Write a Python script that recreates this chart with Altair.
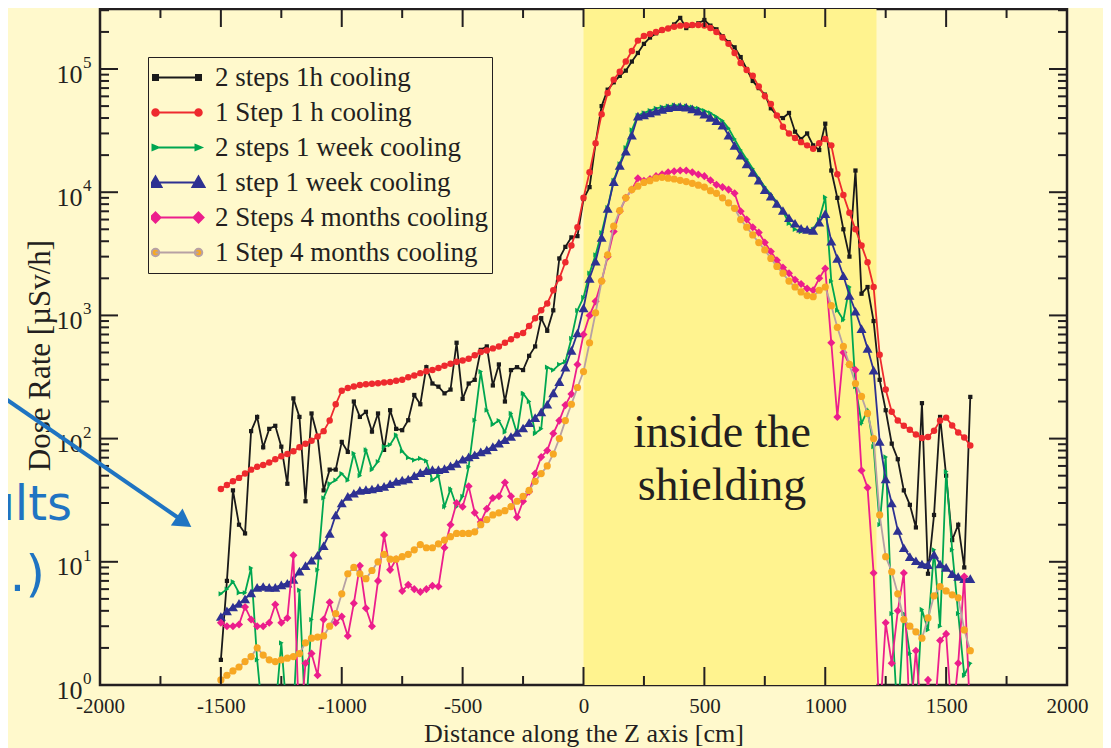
import altair as alt
import pandas as pd

# ---------------- data ----------------
Z_CM = list(range(-1500, 1601, 25))  # sampling positions along Z [cm]

SERIES = ["2 steps 1h cooling", "1 Step 1 h cooling", "2 steps 1 week cooling",
          "1 step 1 week cooling", "2 Steps 4 months cooling", "1 Step 4 months cooling"]

BLACK_2STEPS_1H = [
    1.6, 7, 38, 20, 17, 115, 150, 85, 120, 127,
    86, 43, 212, 150, 31, 160, 104, 38, 56, 56,
    94, 78, 200, 150, 165, 114, 160, 81, 170, 120,
    117, 141, 226, 190, 380, 280, 264, 233, 250, 600,
    210, 280, 300, 525, 560, 270, 400, 200, 360, 380,
    360, 470, 560, 950, 750, 1100, 2900, 3600, 4300, 4400,
    8800, 11000, 25000, 50000, 68000, 78000, 88000, 97000, 115000, 135000,
    160000, 180000, 195000, 205000, 215000, 230000, 260000, 215000, 225000, 235000,
    250000, 225000, 210000, 185000, 165000, 150000, 125000, 100000, 80000, 70000,
    62000, 48000, 42000, 40000, 44000, 31000, 27000, 30000, 24000, 22000,
    36000, 15000, 9000, 5000, 3000, 15000, 1500, 1700, 900, 300,
    170, 91, 68, 38, 29, 19, 194, 8, 24, 150,
    50, 15, 20, 9, 218]

RED_1STEP_1H = [
    39, 42, 45, 48, 52, 56, 59, 61, 64, 68,
    72, 75, 79, 85, 91, 96, 104, 115, 140, 190,
    245, 258, 265, 272, 276, 279, 282, 285, 288, 295,
    300, 315, 325, 340, 352, 360, 375, 390, 405, 420,
    430, 445, 475, 505, 520, 540, 560, 600, 640, 690,
    720, 820, 950, 1100, 1250, 1600, 2000, 2700, 3700, 5200,
    9000, 14500, 25000, 43000, 64000, 82000, 95000, 115000, 140000, 170000,
    185000, 192000, 200000, 207000, 213000, 220000, 225000, 227000, 228000, 228000,
    226000, 215000, 200000, 180000, 160000, 135000, 112000, 98000, 88000, 72000,
    60000, 52000, 42000, 34000, 30000, 27500, 25500, 24000, 22500, 25000,
    27000, 24000, 14000, 9500, 6800, 5000, 3700, 2700, 1700, 480,
    250, 165, 140, 127, 118, 108, 101, 103, 116, 140,
    148, 128, 112, 102, 88]

GREEN_2STEPS_1W = [
    5.5, 6.0, 6.9, 5.6, 5.6, 8.9, 1.6, 0.5, 0.5, 0.6,
    2.2, 0.5, 0.6, 5.9, 0.5, 3.4, 8.6, 33, 43, 46,
    52, 46, 76, 50, 81, 56, 65, 86, 89, 107,
    79, 70, 67, 69, 66, 46, 50, 28, 39, 28,
    34, 59, 141, 350, 170, 130, 140, 113, 160, 110,
    233, 200, 110, 120, 380, 360, 400, 420, 650, 1100,
    1400, 2200, 3100, 4700, 7500, 12500, 17000, 23000, 32000, 42000,
    44000, 46000, 48000, 49000, 50000, 51000, 50500, 50000, 49000, 48000,
    46000, 44000, 41000, 38000, 33000, 27000, 22000, 18500, 15500, 13000,
    11000, 9600, 8300, 7000, 5600, 5000, 4800, 4900, 5000, 6000,
    9100, 1900, 1100, 920, 1700, 264, 133, 170, 86, 20,
    71, 3.8, 0.5, 3.8, 1.8, 0.5, 4.1, 2.8, 12.5, 3,
    54, 12.5, 3.8, 1.2, 1.5]

BLUE_1STEP_1W = [
    3.6, 4.0, 4.3, 4.6, 5.0, 5.6, 6.2, 6.3, 6.2, 6.2,
    6.5, 6.7, 7.2, 8.4, 9.3, 10.3, 11.3, 13.5, 17, 24,
    30, 34, 36, 38, 38.5, 39, 40, 41, 43, 45,
    46, 47, 50, 53, 55, 56, 56, 57, 60, 63,
    68, 71, 74, 78, 81, 86, 92, 98, 104, 112,
    122, 135, 148, 165, 190, 235, 290, 380, 520, 720,
    1150, 2000, 2750, 4300, 7400, 12200, 16500, 21500, 29000, 41500,
    42500, 44000, 45500, 47000, 48500, 49500, 49500, 49000, 47500, 45500,
    43000, 40500, 38000, 35000, 29000, 24000, 20000, 17000, 14500, 12500,
    10500, 9300, 8100, 7100, 6200, 5600, 5100, 5000, 4900, 5700,
    6700, 4000, 2900, 2100, 1450, 1080, 780, 540, 360, 95,
    47, 30, 18, 13, 11, 10.2, 9.6, 9.5, 11.5, 9.6,
    9.0, 8.0, 7.6, 7.3, 7.3]

PINK_2STEPS_4M = [
    3.2, 3.0, 3.0, 3.1, 4.3, 3.4, 3.0, 3.0, 3.2, 4.5,
    3.2, 3.5, 11.3, 0.4, 1.5, 1.8, 1.2, 3.4, 4.7, 3.2,
    3.6, 2.5, 4.6, 9.3, 4.2, 3.0, 7.0, 16.5, 8.6, 10.5,
    5.8, 6.5, 6.0, 5.7, 6.0, 6.4, 6.3, 13, 20, 30,
    28, 41, 25, 21, 27, 33, 34, 44, 34, 23,
    31, 37, 52, 71, 80, 110, 140, 187, 230, 400,
    700, 1000, 1300, 1900, 3000, 4800, 7000, 9000, 10500, 13000,
    12400, 12800, 13500, 14000, 14500, 14800, 15000, 15000, 14500, 13900,
    13500, 12500, 11500, 11000, 10500, 9800, 7000, 6000, 5200, 4700,
    3900, 3300, 2800, 2450, 2200, 1950, 1800, 1650, 1600, 2000,
    2400, 600, 150, 500, 400, 360, 55, 40, 8.1, 0.5,
    3.2, 1.5, 4.0, 8.1, 0.5, 1.9, 0.5, 1.1, 0.5, 2.3,
    2.6, 0.5, 1.5, 7.6, 0.5]

ORANGE_1STEP_4M = [
    1.1, 1.2, 1.3, 1.4, 1.55, 1.7, 2.0, 1.75, 1.6, 1.55,
    1.6, 1.65, 1.7, 1.8, 2.2, 2.4, 2.45, 2.5, 3.0, 3.8,
    5.5, 8.0, 9.0, 8.0, 7.3, 8.5, 10, 11.5, 10.5, 10.5,
    11, 11.5, 12.5, 13.8, 13, 13, 14, 15, 16, 17,
    17, 17, 17.5, 20, 22, 24, 25, 26, 28, 31,
    34, 38, 45, 52, 60, 75, 100, 140, 190, 260,
    350, 600, 1050, 1900, 3100, 5300, 7100, 9000, 10500, 11200,
    12000, 12400, 13000, 13200, 13000, 12800, 12500, 12200, 11800, 11400,
    11000, 10300, 9800, 9000, 8200, 7400, 6000, 5200, 4500, 3900,
    3400, 2900, 2500, 2200, 1900, 1700, 1550, 1450, 1420, 1600,
    1700, 1200, 800, 560, 400, 280, 220, 160, 100, 24,
    11, 8.3, 5.5, 3.4, 3.0, 2.7, 2.4, 3.5, 5.3, 6.3,
    5.8, 5.4, 5.1, 2.8, 1.9]

VALUES = [BLACK_2STEPS_1H, RED_1STEP_1H, GREEN_2STEPS_1W,
          BLUE_1STEP_1W, PINK_2STEPS_4M, ORANGE_1STEP_4M]

BAND_START, BAND_END = 0, 1212          # "inside the shielding" region [cm]
X_MAJOR = [-2000, -1500, -1000, -500, 0, 500, 1000, 1500, 2000]
X_MINOR = [-1750, -1250, -750, -250, 250, 750, 1250, 1750]
Y_MAJOR = [1, 10, 100, 1000, 10000, 100000]
Y_EXP = ["0", "1", "2", "3", "4", "5"]
Y_MINOR = [m * 10 ** k for k in range(0, 5) for m in range(2, 10)] + [200000, 300000]

# ---------------- styles ----------------
W, H = 967, 676
FONT = "Liberation Serif"
INK = "#231f20"
BG = "#fff9cc"
BAND = "#fff38f"
LINE_COLORS = ["#1a1a1a", "#ee2a2e", "#00a651", "#2e3192", "#ec1e8c", "#b7a1a4"]
MARK_COLORS = ["#1a1a1a", "#ee2a2e", "#00a651", "#2e3192", "#ec1e8c", "#f7a823"]
SHAPES = ["square", "circle", "triangle-right", "triangle-up", "diamond", "circle"]
SIZES = [18, 42, 28, 100, 65, 52]


def ends(marker):
    return "M-0.86,0L0.86,0" + marker


def circ(cx, r):
    return (f"M{cx - r:.2f},0A{r},{r} 0 1,0 {cx + r:.2f},0"
            f"A{r},{r} 0 1,0 {cx - r:.2f},0Z")


LEG_PATHS = [
    ends("M-0.96,-0.1L-0.76,-0.1L-0.76,0.1L-0.96,0.1ZM0.76,-0.1L0.96,-0.1L0.96,0.1L0.76,0.1Z"),
    ends(circ(-0.86, 0.13) + circ(0.86, 0.13)),
    ends("M-0.98,-0.1L-0.74,0L-0.98,0.1ZM0.74,-0.1L0.98,0L0.74,0.1Z"),
    ends("M-1.1,0.18L-0.86,-0.24L-0.62,0.18ZM0.62,0.18L0.86,-0.24L1.1,0.18Z"),
    ends("M-0.86,-0.2L-0.66,0L-0.86,0.2L-1.06,0ZM0.86,-0.2L1.06,0L0.86,0.2L0.66,0Z"),
    ends(circ(-0.86, 0.15) + circ(0.86, 0.15)),
]

XS = alt.Scale(domain=[-2000, 2000], nice=False, zero=False)
YS = alt.Scale(type="log", domain=[1, 307000], nice=False)

XAXIS = alt.Axis(values=X_MAJOR, title="Distance along the Z axis [cm]",
                 labelExpr="datum.value < 0 ? '-' + abs(datum.value) : '' + datum.value",
                 labelFontSize=21, labelPadding=10, labelFlush=False, labelOverlap=False,
                 ticks=False, tickSize=0, domain=False, grid=False,
                 titleFontSize=26, titleY=48, titleBaseline="middle", titleFontWeight="normal")
YAXIS = alt.Axis(values=Y_MAJOR, title="Dose Rate [µSv/h]", labelExpr="'10'",
                 labelFontSize=26, labelPadding=18, labelOffset=5, labelFlush=False,
                 labelOverlap=False, ticks=False, tickSize=0, domain=False, grid=False,
                 titleFontSize=31, titleX=-60, titleY=346, titleAngle=270,
                 titleAlign="center", titleBaseline="middle", titleFontWeight="normal")


def X(field="z"):
    return alt.X(f"{field}:Q", scale=XS, axis=XAXIS)


def Y(field="v"):
    return alt.Y(f"{field}:Q", scale=YS, axis=YAXIS)


# ---------------- build ----------------
rows = []
for name, vals in zip(SERIES, VALUES):
    for z, v in zip(Z_CM, vals):
        rows.append({"z": z, "v": v, "series": name})
long_df = pd.DataFrame(rows)
base = alt.Chart(long_df)

band = alt.Chart(pd.DataFrame({"z": [BAND_START], "z2": [BAND_END]})).mark_rect(
    color=BAND).encode(x=X(), x2="z2:Q", y=alt.value(0), y2=alt.value(H))

series_layers = []
for i, name in enumerate(SERIES):
    sub = base.transform_filter(alt.datum.series == name)
    series_layers.append(sub.mark_line(color=LINE_COLORS[i], strokeWidth=1.8, clip=True)
                         .encode(x=X(), y=Y()))
    series_layers.append(sub.mark_point(shape=SHAPES[i], filled=True, size=SIZES[i],
                                        color=MARK_COLORS[i], opacity=1, clip=True)
                         .encode(x=X(), y=Y()))

xmaj = alt.Chart(pd.DataFrame({"z": X_MAJOR}))
xmin = alt.Chart(pd.DataFrame({"z": X_MINOR}))
ymaj = alt.Chart(pd.DataFrame({"v": Y_MAJOR}))
ymin = alt.Chart(pd.DataFrame({"v": Y_MINOR}))
rk = dict(color=INK, strokeWidth=2)
ticks = [
    xmaj.mark_rule(**rk).encode(x=X(), y=alt.value(H), y2=alt.value(H - 18)),
    xmaj.mark_rule(**rk).encode(x=X(), y=alt.value(0), y2=alt.value(18)),
    xmin.mark_rule(**rk).encode(x=X(), y=alt.value(H), y2=alt.value(H - 9)),
    xmin.mark_rule(**rk).encode(x=X(), y=alt.value(0), y2=alt.value(9)),
    ymaj.mark_rule(**rk).encode(y=Y(), x=alt.value(0), x2=alt.value(18)),
    ymaj.mark_rule(**rk).encode(y=Y(), x=alt.value(W), x2=alt.value(W - 18)),
    ymin.mark_rule(**rk).encode(y=Y(), x=alt.value(0), x2=alt.value(9)),
    ymin.mark_rule(**rk).encode(y=Y(), x=alt.value(W), x2=alt.value(W - 9)),
]

exps = alt.Chart(pd.DataFrame({"v": Y_MAJOR, "e": Y_EXP})).mark_text(
    align="left", baseline="middle", font=FONT, fontSize=17, color=INK, dy=-6
).encode(y=Y(), x=alt.value(-17), text="e:N")

legend = alt.Legend(title=None, orient="none", legendX=48, legendY=48,
                    symbolSize=2500, symbolStrokeWidth=2, symbolFillColor="#000000",
                    symbolOpacity=1, clipHeight=35, rowPadding=0,
                    padding=3, labelFont=FONT, labelFontSize=27, labelColor=INK,
                    labelOffset=12, labelLimit=0, strokeColor=INK, fillColor=BG)
leg_df = pd.DataFrame({"series": SERIES})
legend_layer = alt.Chart(leg_df).mark_point(filled=True, opacity=0).encode(
    fill=alt.Fill("series:N", scale=alt.Scale(domain=SERIES, range=MARK_COLORS), legend=legend),
    stroke=alt.Stroke("series:N", scale=alt.Scale(domain=SERIES, range=LINE_COLORS), legend=legend),
    shape=alt.Shape("series:N", scale=alt.Scale(domain=SERIES, range=LEG_PATHS), legend=legend),
)

one = alt.Chart(pd.DataFrame({"a": [0]}))
inside = one.mark_text(text="inside the\nshielding", lineBreak="\n", font=FONT, fontSize=46,
                       color=INK, align="center", baseline="alphabetic", lineHeight=53
                       ).encode(x=alt.value(622), y=alt.value(438))
BLUE_NOTE = "#1f74c2"
note1 = one.mark_text(text="ults", font="DejaVu Sans", fontSize=48, color=BLUE_NOTE,
                      align="right", baseline="alphabetic").encode(x=alt.value(-28), y=alt.value(511))
note2 = one.mark_text(text=".)", font="DejaVu Sans", fontSize=50, color=BLUE_NOTE,
                      align="right", baseline="alphabetic").encode(x=alt.value(-55), y=alt.value(582))
arrow = one.mark_rule(color=BLUE_NOTE, strokeWidth=4).encode(
    x=alt.value(-100), y=alt.value(386), x2=alt.value(80), y2=alt.value(510))
head = one.mark_point(shape="triangle-right", filled=True, size=420, angle=34.6,
                      color=BLUE_NOTE, opacity=1).encode(x=alt.value(84), y=alt.value(513))

chart = alt.layer(
    band, *series_layers, *ticks, exps, legend_layer, inside, note1, note2, arrow, head
).properties(
    width=W, height=H,
    padding={"left": 92, "top": 1, "right": 36, "bottom": 63},
    autosize=alt.AutoSizeParams(type="none"),
).configure(
    background=BG, font=FONT,
).configure_view(
    stroke=INK, strokeWidth=2.5, fill=None,
).configure_axis(
    labelColor=INK, titleColor=INK, labelFont=FONT, titleFont=FONT,
)

chart.save("out.html", embed_options={"renderer": "svg", "actions": False})
